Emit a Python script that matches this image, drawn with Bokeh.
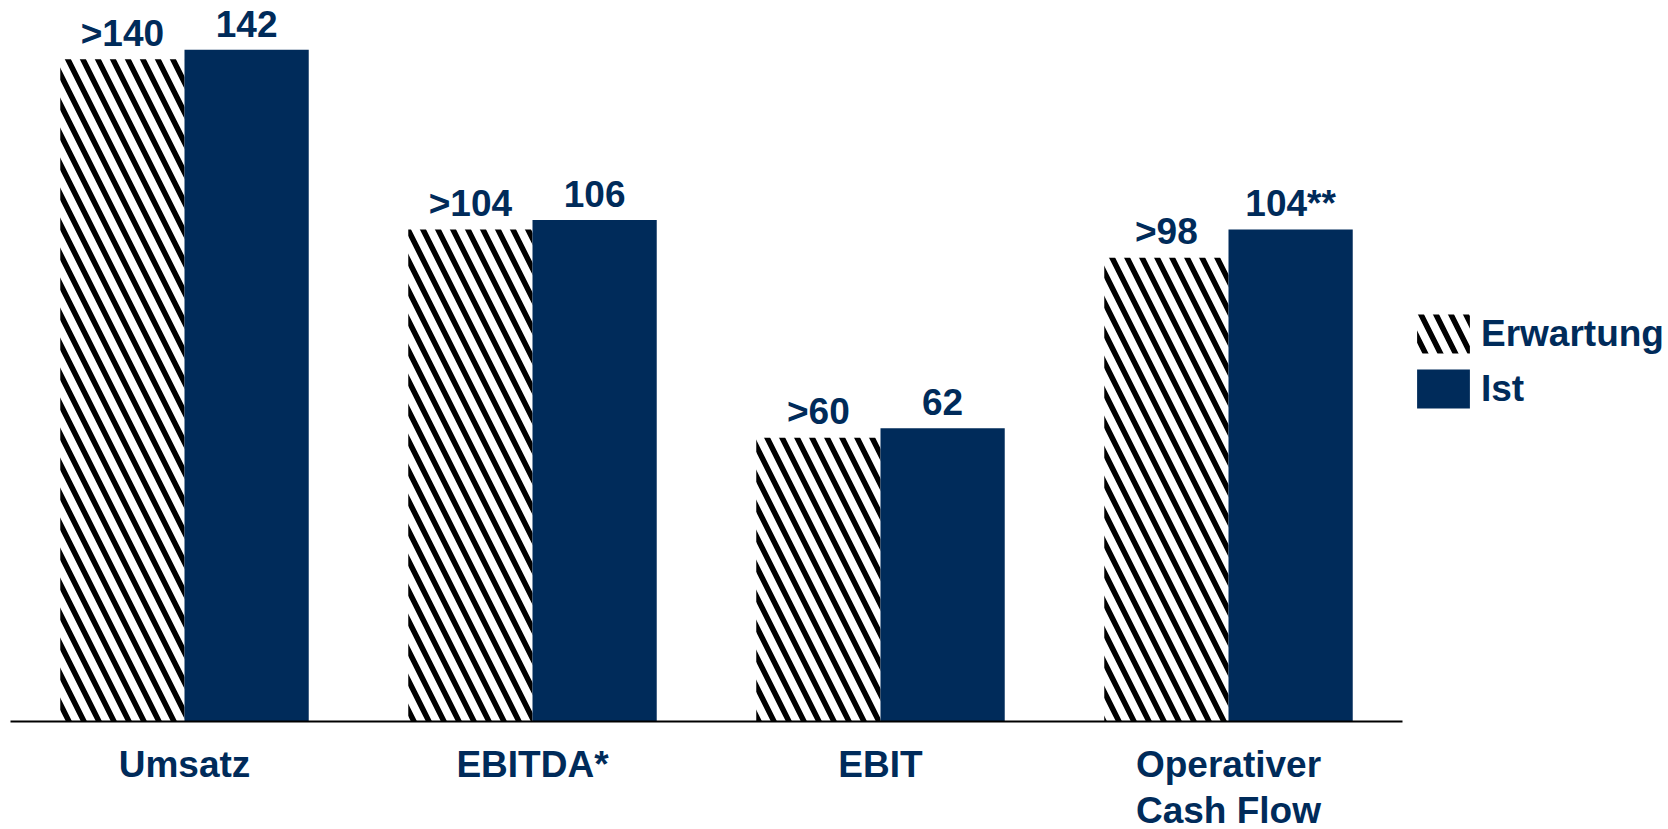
from bokeh.plotting import figure
from bokeh.models import ColumnDataSource, FactorRange, Range1d, Legend, LegendItem
from bokeh.transform import dodge
from bokeh.core.properties import value
from bokeh.embed import file_html
from bokeh.resources import INLINE

categories = ["Umsatz", "EBITDA*", "EBIT", "Operativer\nCash Flow"]
erwartung = [140, 104, 60, 98]
ist = [142, 106, 62, 104]
erwartung_labels = [">140", ">104", ">60", ">98"]
ist_labels = ["142", "106", "62", "104**"]

NAVY = "#002B5A"
FONT = "Liberation Sans"

src = ColumnDataSource(dict(cat=categories, erw=erwartung, ist=ist,
                            erw_lbl=erwartung_labels, ist_lbl=ist_labels))

p = figure(frame_width=1392, frame_height=721, output_backend="svg", toolbar_location=None,
           x_range=FactorRange(*categories, range_padding=0),
           y_range=Range1d(0, 152.4), y_axis_location=None,
           min_border_left=10, min_border_right=0, min_border_top=0,
           min_border_bottom=0, outline_line_color=None)
p.grid.visible = False

bw = 0.357
off = 0.1785
r1 = p.vbar(x=dodge("cat", -off, range=p.x_range), top="erw", width=bw, source=src,
            fill_color="white", line_color=None, hatch_pattern="left_diagonal_line",
            hatch_color="black", hatch_weight=5.5, hatch_scale=30)
r2 = p.vbar(x=dodge("cat", off, range=p.x_range), top="ist", width=bw, source=src,
            fill_color=NAVY, line_color=None)

for xo, col, ycol in [(-off, "erw_lbl", "erw"), (off, "ist_lbl", "ist")]:
    p.text(x=dodge("cat", xo, range=p.x_range), y=ycol,
           text=col, source=src, text_align="center", text_baseline="alphabetic",
           y_offset=-26, text_font=value(FONT), text_font_style="bold",
           text_font_size="37px", text_color=NAVY)

ax = p.xaxis[0]
ax.axis_line_color = "black"
ax.axis_line_width = 2
ax.major_tick_line_color = None
ax.minor_tick_line_color = None
ax.major_label_standoff = 16
ax.major_label_text_font = FONT
ax.major_label_text_font_style = "bold"
ax.major_label_text_font_size = "37px"
ax.major_label_text_color = NAVY
ax.major_label_text_line_height = 1.13

legend = Legend(items=[LegendItem(label="Erwartung", renderers=[r1]),
                       LegendItem(label="Ist", renderers=[r2])],
                location=(8, 308), orientation="vertical",
                glyph_width=66, glyph_height=49, label_standoff=5, spacing=6,
                padding=0, margin=0, border_line_color=None,
                background_fill_alpha=0,
                label_text_font=FONT, label_text_font_style="bold",
                label_text_font_size="37px", label_text_color=NAVY)
p.add_layout(legend, "right")

open("out.html", "w").write(file_html(p, INLINE))
